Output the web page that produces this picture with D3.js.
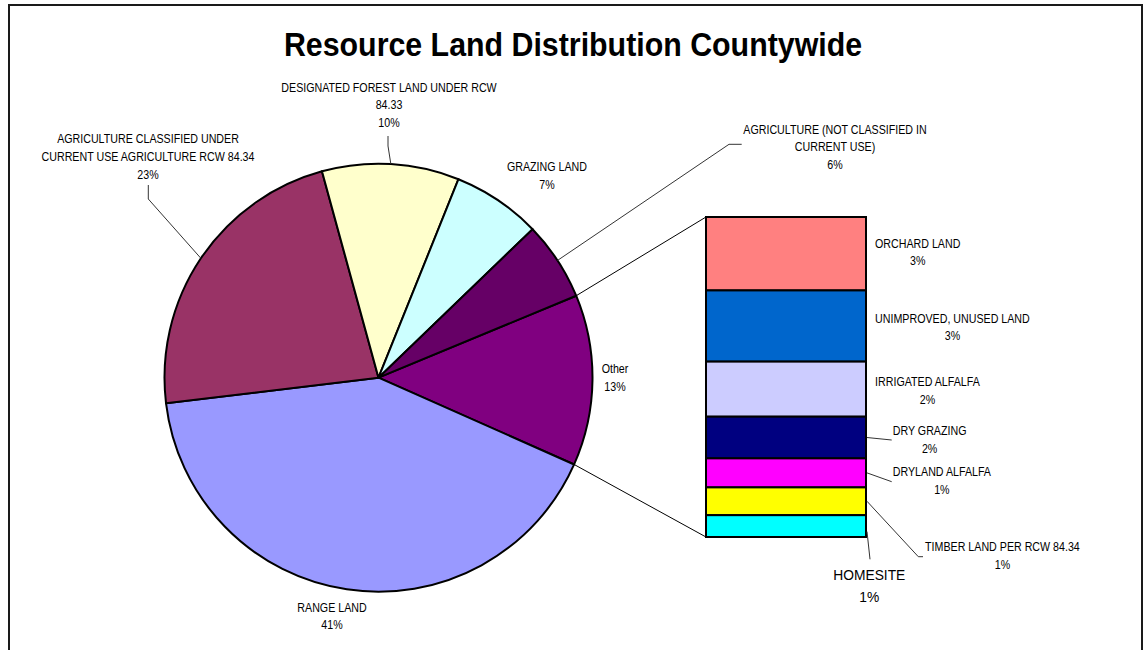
<!DOCTYPE html>
<html>
<head>
<meta charset="utf-8">
<script src="https://cdn.jsdelivr.net/npm/d3@7"></script>
<style>
  body { margin: 0; background: #fff; }
  svg { display: block; }
  text { font-family: "Liberation Sans", Arial, Helvetica, sans-serif; fill: #000; }
</style>
</head>
<body>
<svg id="chart" width="1148" height="650"></svg>
<script>
// ---- data ----------------------------------------------------------------
const titleText = "Resource Land Distribution Countywide";

// main pie slices (percent of countywide resource land), clockwise after "Other"
const mainCategories = [
  "RANGE LAND",
  "AGRICULTURE CLASSIFIED UNDER\nCURRENT USE AGRICULTURE RCW 84.34",
  "DESIGNATED FOREST LAND UNDER RCW\n84.33",
  "GRAZING LAND",
  "AGRICULTURE (NOT CLASSIFIED IN\nCURRENT USE)"
];
const mainValues = [41.45, 22.65, 10.35, 6.7, 5.95];
const mainColors = ["#9999FF", "#993366", "#FFFFCC", "#CCFFFF", "#660066"];

// breakdown of the "Other" slice, top to bottom in the stacked bar
const otherName = "Other";
const otherColor = "#800080";
const otherCategories = [
  "ORCHARD LAND",
  "UNIMPROVED, UNUSED LAND",
  "IRRIGATED ALFALFA",
  "DRY GRAZING",
  "DRYLAND ALFALFA",
  "TIMBER LAND PER RCW 84.34",
  "HOMESITE"
];
const otherValues = [2.96, 2.87, 2.22, 1.68, 1.17, 1.12, 0.88];
const otherColors = ["#FF8080", "#0066CC", "#CCCCFF", "#000080", "#FF00FF", "#FFFF00", "#00FFFF"];

// ---- layout ----------------------------------------------------------------
const W = 1148, H = 650;
const cx = 378.5, cy = 377.7, R = 214;
const rotation = 0.7 * Math.PI / 180;       // small clockwise turn of the whole pie
const bar = { x0: 706, x1: 866, y0: 217, y1: 537 };
const sx = 0.89;                            // condensed label lettering
const lineH = 17.7;

// label placement for pie slices (centre x, first baseline, optional leader elbow)
const pieLabelPos = {
  "Other": { x: 615, y: 373.3 },
  "RANGE LAND": { x: 332, y: 611.6 },
  "AGRICULTURE CLASSIFIED UNDER\nCURRENT USE AGRICULTURE RCW 84.34": { x: 148, y: 143.3, leader: [[148.3, 185], [148.3, 199]] },
  "DESIGNATED FOREST LAND UNDER RCW\n84.33": { x: 389, y: 91.6, leader: [[388, 136], [388, 146]] },
  "GRAZING LAND": { x: 547, y: 171 },
  "AGRICULTURE (NOT CLASSIFIED IN\nCURRENT USE)": { x: 835, y: 133.6, leader: [[741.7, 144.3], [729, 144.3]] }
};

// label placement for bar segments (left edge or centre, first baseline, leader path)
const barLabelPos = [
  { left: 875, y: 247.6 },
  { left: 875, y: 322.6 },
  { left: 875, y: 386 },
  { left: 892.7, y: 435, leader: [[891.7, 440]] },
  { left: 892.7, y: 476, leader: [[891.7, 481.7]] },
  { left: 925, y: 551, leader: [[918.3, 556.7], [923, 556.7]] },
  { center: 869.3, y: 579.5, size: 15.5, lh: 22.7, leader: [[870, 559.3]], from: 5.5 }
];

// ---- drawing ---------------------------------------------------------------
const svg = d3.select("#chart");

svg.append("rect").attr("x", 0).attr("y", 0).attr("width", W).attr("height", H).attr("fill", "#fff");
// chart frame (bottom edge runs off the page)
svg.append("rect")
  .attr("x", 9).attr("y", 5).attr("width", 1133).attr("height", 700)
  .attr("fill", "none").attr("stroke", "#1a1a1a").attr("stroke-width", 2);

svg.append("text")
  .attr("transform", `translate(573,56) scale(0.92,1)`)
  .attr("text-anchor", "middle")
  .attr("font-size", 33).attr("font-weight", "bold")
  .text(titleText);

const otherTotal = d3.sum(otherValues);
const pieData = [{ name: otherName, value: otherTotal, color: otherColor }]
  .concat(mainCategories.map((c, i) => ({ name: c, value: mainValues[i], color: mainColors[i] })));
const total = d3.sum(pieData, d => d.value);
const pct = v => Math.round(v / total * 100) + "%";

const otherAngle = 2 * Math.PI * otherTotal / total;
const start = Math.PI / 2 - otherAngle / 2 + rotation;

const pie = d3.pie().sort(null).value(d => d.value)
  .startAngle(start).endAngle(start + 2 * Math.PI);
const arcs = pie(pieData);
const arc = d3.arc().innerRadius(0).outerRadius(R);
const rim = a => [cx + R * Math.sin(a), cy - R * Math.cos(a)];

const g = svg.append("g").attr("transform", `translate(${cx},${cy})`);
g.selectAll("path.slice").data(arcs).join("path")
  .attr("class", "slice")
  .attr("d", arc)
  .attr("fill", d => d.data.color)
  .attr("stroke", "#000").attr("stroke-width", 2).attr("stroke-linejoin", "round");

// stacked bar for the "Other" breakdown
const y = d3.scaleLinear().domain([0, otherTotal]).range([bar.y0, bar.y1]);
const cum = d3.cumsum(otherValues);
const segs = otherValues.map((v, i) => ({
  name: otherCategories[i], value: v, color: otherColors[i],
  y0: y(cum[i] - v), y1: y(cum[i])
}));

// connector lines from the "Other" slice to the bar
const oArc = arcs[0];
const line = d3.line();
const conn = svg.append("g").attr("fill", "none").attr("stroke", "#000").attr("stroke-width", 1);
conn.append("path").attr("d", line([rim(oArc.startAngle), [bar.x0, bar.y0]]));
conn.append("path").attr("d", line([rim(oArc.endAngle), [bar.x0, bar.y1]]));

svg.append("g").selectAll("rect").data(segs).join("rect")
  .attr("x", bar.x0).attr("width", bar.x1 - bar.x0)
  .attr("y", d => d.y0).attr("height", d => d.y1 - d.y0)
  .attr("fill", d => d.color)
  .attr("stroke", "#000").attr("stroke-width", 2);

// ---- labels ----------------------------------------------------------------
const leaders = svg.append("g").attr("fill", "none").attr("stroke", "#333").attr("stroke-width", 1);
const labels = svg.append("g");

arcs.forEach(a => {
  const pos = pieLabelPos[a.data.name];
  const lines = a.data.name.split("\n").concat([pct(a.data.value)]);
  const t = labels.append("g").attr("transform", `translate(${pos.x},${pos.y}) scale(${sx},1)`);
  lines.forEach((s, i) => t.append("text")
    .attr("x", 0).attr("y", i * lineH)
    .attr("text-anchor", "middle").attr("font-size", 12).text(s));
  if (pos.leader) {
    const mid = (a.startAngle + a.endAngle) / 2;
    leaders.append("path").attr("d", line(pos.leader.concat([rim(mid)])));
  }
});

segs.forEach((s, i) => {
  const pos = barLabelPos[i];
  const size = pos.size || 12;
  const lh = pos.lh || lineH;
  const lines = [s.name, pct(s.value)];
  const t = labels.append("g");
  const texts = lines.map((str, k) => t.append("text")
    .attr("y", k * lh).attr("text-anchor", "middle").attr("font-size", size).text(str));
  let gx;
  if (pos.center !== undefined) {
    gx = pos.center;
    texts.forEach(tx => tx.attr("x", 0));
  } else {
    const w = d3.max(texts, tx => tx.node().getComputedTextLength());
    texts.forEach(tx => tx.attr("x", w / 2));
    gx = pos.left;
  }
  t.attr("transform", `translate(${gx},${pos.y}) scale(${sx},1)`);
  if (pos.leader) {
    const mid = (s.y0 + s.y1) / 2 + (pos.from || 0);
    leaders.append("path").attr("d", line([[bar.x1 + 1, mid]].concat(pos.leader)));
  }
});
</script>
</body>
</html>
